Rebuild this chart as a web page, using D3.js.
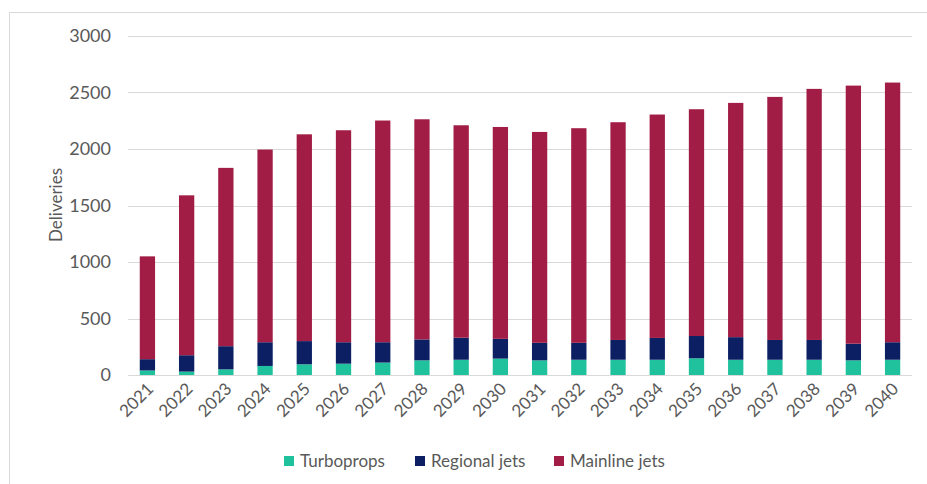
<!DOCTYPE html>
<html>
<head>
<meta charset="utf-8">
<script src="https://cdn.jsdelivr.net/npm/d3@7"></script>
<style>
  html, body { margin: 0; padding: 0; background: #fff; }
  svg { display: block; font-family: Lato, "Open Sans", sans-serif; }
</style>
</head>
<body>
<svg id="chart" width="927" height="484"></svg>
<script>
// Annual aircraft deliveries by segment
const years = ["2021","2022","2023","2024","2025","2026","2027","2028","2029","2030",
               "2031","2032","2033","2034","2035","2036","2037","2038","2039","2040"];
const turboprops   = [40, 30, 50, 80, 95, 100, 110, 130, 135, 145, 130, 135, 135, 135, 148, 135, 135, 135, 130, 135];
const regionalJets = [100, 145, 205, 210, 205, 190, 180, 185, 195, 175, 155, 150, 175, 193, 197, 200, 175, 175, 147, 155];
const mainlineJets = [910, 1415, 1578, 1705, 1830, 1876, 1962, 1948, 1880, 1875, 1866, 1899, 1927, 1977, 2007, 2073, 2151, 2222, 2284, 2298];
const yTicks = [0, 500, 1000, 1500, 2000, 2500, 3000];
const seriesNames = ["Turboprops", "Regional jets", "Mainline jets"];
const seriesColors = ["#1fc29d", "#0c1f63", "#a21d45"];

const svg = d3.select("#chart");
const margin = { left: 128, right: 15, top: 36, bottom: 109 };
const W = 927, H = 484;

const x = d3.scaleBand().domain(years)
  .range([margin.left, W - margin.right]).paddingInner(0.61).paddingOuter(0.3);
const y = d3.scaleLinear().domain([0, 3000]).range([H - margin.bottom, margin.top]);

// outer frame (top and left edges)
svg.append("path").attr("d", `M9.5,${H} V12.5 H${W}`)
  .attr("fill", "none").attr("stroke", "#d9d9d9").attr("stroke-width", 1);

// gridlines
svg.append("g").selectAll("line").data(yTicks).join("line")
  .attr("x1", margin.left).attr("x2", W - margin.right)
  .attr("y1", d => Math.round(y(d)) + 0.5).attr("y2", d => Math.round(y(d)) + 0.5)
  .attr("stroke", "#d9d9d9").attr("stroke-width", 1);

// y axis labels
const yAxis = d3.axisLeft(y).tickValues(yTicks).tickFormat(d3.format("d")).tickSize(0).tickPadding(0);
const gy = svg.append("g").attr("transform", `translate(111,0)`).call(yAxis);
gy.select(".domain").remove();
gy.selectAll("text").attr("font-size", 18).attr("fill", "#595959")
  .attr("font-family", "Lato, 'Open Sans', sans-serif");

// stacked bars
const rows = years.map((yr, i) => ({
  year: yr, "Turboprops": turboprops[i], "Regional jets": regionalJets[i], "Mainline jets": mainlineJets[i]
}));
const stack = d3.stack().keys(seriesNames)(rows);
svg.append("g").selectAll("g").data(stack).join("g")
  .attr("fill", (d, i) => seriesColors[i])
  .selectAll("rect").data(d => d).join("rect")
  .attr("x", d => x(d.data.year))
  .attr("width", x.bandwidth())
  .attr("y", d => y(d[1]))
  .attr("height", d => y(d[0]) - y(d[1]));

// x axis labels
const xAxis = d3.axisBottom(x).tickSize(0).tickPadding(0);
const gx = svg.append("g").attr("transform", `translate(0,${H - margin.bottom})`).call(xAxis);
gx.select(".domain").remove();
gx.selectAll("text")
  .attr("font-size", 17).attr("fill", "#595959")
  .attr("font-family", "Lato, 'Open Sans', sans-serif")
  .attr("text-anchor", "end")
  .attr("dy", 0).attr("y", 0)
  .attr("transform", "translate(7,15) rotate(-45)");

// y axis title
svg.append("text")
  .attr("transform", "translate(62,205) rotate(-90)")
  .attr("text-anchor", "middle")
  .attr("font-size", 17).attr("fill", "#595959")
  .text("Deliveries");

// legend
const legendX = [284, 415, 554];
const lg = svg.append("g").selectAll("g").data(seriesNames).join("g")
  .attr("transform", (d, i) => `translate(${legendX[i]},456)`);
lg.append("rect").attr("width", 10).attr("height", 10)
  .attr("fill", (d, i) => seriesColors[i]);
lg.append("text").attr("x", 16).attr("y", 11)
  .attr("font-size", 17).attr("fill", "#595959")
  .text(d => d);
</script>
</body>
</html>
